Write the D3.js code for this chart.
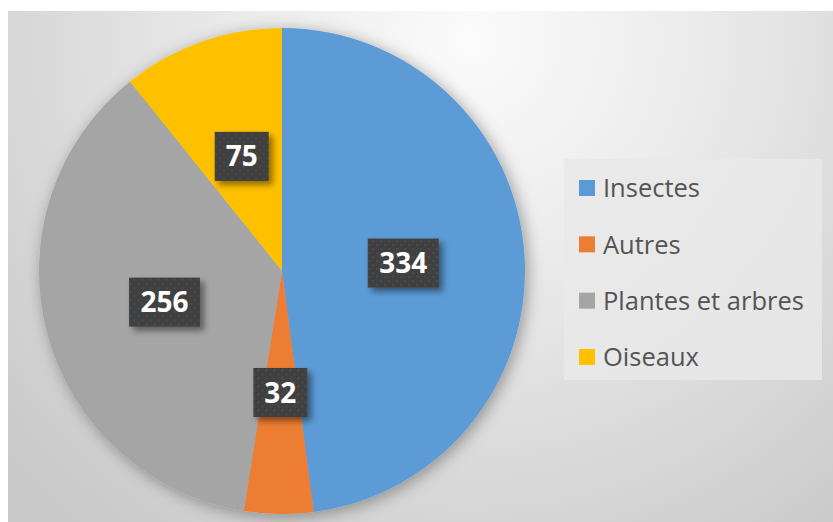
<!DOCTYPE html>
<html>
<head>
<meta charset="utf-8">
<script src="https://cdn.jsdelivr.net/npm/d3@7"></script>
<style>
  body { margin: 0; background: #fff; }
  svg { display: block; }
</style>
</head>
<body>
<svg id="chart" width="833" height="522"></svg>
<script>
var categories = ["Insectes", "Autres", "Plantes et arbres", "Oiseaux"];
var values = [334, 32, 256, 75];
var colors = ["#5B9BD5", "#ED7D31", "#A5A5A5", "#FFC000"];

var W = 833, H = 522;
var svg = d3.select("#chart");
var defs = svg.append("defs");

// background gradient
var bg = defs.append("radialGradient")
    .attr("id", "bg")
    .attr("gradientUnits", "userSpaceOnUse")
    .attr("cx", 470).attr("cy", 40).attr("r", 620);
bg.append("stop").attr("offset", "0%").attr("stop-color", "#fbfbfb");
bg.append("stop").attr("offset", "35%").attr("stop-color", "#ececec");
bg.append("stop").attr("offset", "100%").attr("stop-color", "#c9c9c9");

var shadow = defs.append("filter").attr("id", "pieShadow")
    .attr("x", "-20%").attr("y", "-20%").attr("width", "140%").attr("height", "140%");
shadow.append("feDropShadow")
    .attr("dx", 3).attr("dy", 3).attr("stdDeviation", 8)
    .attr("flood-color", "#000").attr("flood-opacity", 0.35);

var boxShadow = defs.append("filter").attr("id", "boxShadow")
    .attr("x", "-30%").attr("y", "-30%").attr("width", "160%").attr("height", "160%");
boxShadow.append("feDropShadow")
    .attr("dx", 4).attr("dy", 4).attr("stdDeviation", 3)
    .attr("flood-color", "#000").attr("flood-opacity", 0.45);

var dots = defs.append("pattern").attr("id", "dots")
    .attr("patternUnits", "userSpaceOnUse").attr("width", 8).attr("height", 8);
dots.append("rect").attr("width", 8).attr("height", 8).attr("fill", "#404040");
dots.append("circle").attr("cx", 2).attr("cy", 2).attr("r", 1).attr("fill", "#4e4e4e");
dots.append("circle").attr("cx", 6).attr("cy", 6).attr("r", 1).attr("fill", "#4e4e4e");

svg.append("rect")
    .attr("x", 8).attr("y", 11)
    .attr("width", W - 8).attr("height", H - 11)
    .attr("fill", "url(#bg)");

var cx = 282, cy = 271, R = 243;

var pie = d3.pie().sort(null).value(function(d) { return d; });
var arc = d3.arc().innerRadius(0).outerRadius(R);
var labelArc = d3.arc().innerRadius(0).outerRadius(R);

var arcs = pie(values);

var g = svg.append("g").attr("transform", "translate(" + cx + "," + cy + ")");

g.append("g").attr("filter", "url(#pieShadow)")
    .selectAll("path")
    .data(arcs)
    .enter()
    .append("path")
    .attr("d", arc)
    .attr("fill", function(d, i) { return colors[i]; });

// data labels
var labels = g.selectAll(".lbl")
    .data(arcs)
    .enter()
    .append("g")
    .attr("class", "lbl")
    .attr("transform", function(d) {
        var c = labelArc.centroid(d);
        return "translate(" + c[0] + "," + c[1] + ")";
    });

labels.append("rect")
    .attr("x", function(d) { return -(String(d.value).length * 17 + 20) / 2; })
    .attr("y", -24.5)
    .attr("width", function(d) { return String(d.value).length * 17 + 20; })
    .attr("height", 49)
    .attr("fill", "url(#dots)")
    .attr("filter", "url(#boxShadow)");

labels.append("text")
    .attr("text-anchor", "middle")
    .attr("dy", "0.36em")
    .attr("font-family", "'Open Sans', sans-serif")
    .attr("font-weight", "bold")
    .attr("font-size", 28)
    .attr("fill", "#fff")
    .text(function(d) { return d.value; });

// legend
var legend = svg.append("g");
legend.append("rect")
    .attr("x", 564).attr("y", 159)
    .attr("width", 258).attr("height", 221)
    .attr("fill", "#e9e9e9").attr("fill-opacity", 0.85);

var ly = d3.scalePoint().domain(categories).range([188, 357]);

var item = legend.selectAll(".item")
    .data(categories)
    .enter()
    .append("g")
    .attr("class", "item")
    .attr("transform", function(d) { return "translate(579," + ly(d) + ")"; });

item.append("rect")
    .attr("x", 0).attr("y", -8)
    .attr("width", 16).attr("height", 16)
    .attr("fill", function(d, i) { return colors[i]; });

item.append("text")
    .attr("x", 24)
    .attr("dy", "0.36em")
    .attr("font-family", "'Open Sans', sans-serif")
    .attr("font-size", 25.5)
    .attr("fill", "#545454")
    .text(function(d) { return d; });
</script>
</body>
</html>
